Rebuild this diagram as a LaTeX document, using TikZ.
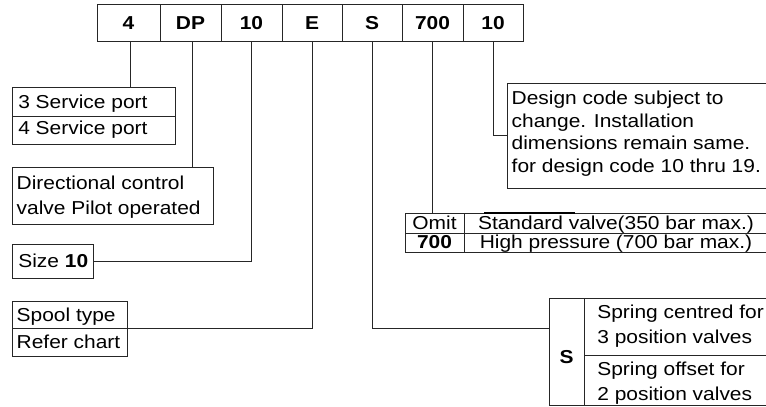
\documentclass[tikz,border=0pt]{standalone}
\usepackage{fontspec}
\setmainfont{Liberation Sans}[FakeStretch=1.12]
\begin{document}
\begin{tikzpicture}[x=1pt,y=-1pt]
\tikzset{
  ln/.style={draw=black!85, line width=1pt},
  box/.style={ln, rectangle, inner sep=0pt, outer sep=0pt, anchor=north west},
  txt/.style={inner sep=0pt, outer sep=0pt, anchor=base west, font=\fontsize{18.7}{22}\selectfont},
  ctxt/.style={txt, anchor=base},
  btxt/.style={ctxt, font=\fontsize{18.7}{22}\selectfont\bfseries},
  bcell/.style={box, font=\fontsize{18.7}{22}\selectfont\bfseries, text height=13.4pt, text depth=0pt},
  link/.style={ln},
}
\useasboundingbox (0,0) rectangle (766,407);
\clip (0,0) rectangle (766,407);

% top code row
\node[bcell, minimum width=63, minimum height=37] (c1) at (97,4) {4};
\node[bcell, minimum width=61, minimum height=37] (c2) at (160,4) {DP};
\node[bcell, minimum width=61, minimum height=37] (c3) at (221,4) {10};
\node[bcell, minimum width=60, minimum height=37] (c4) at (282,4) {E};
\node[bcell, minimum width=60, minimum height=37] (c5) at (342,4) {S};
\node[bcell, minimum width=61, minimum height=37] (c6) at (402,4) {700};
\node[bcell, minimum width=60, minimum height=37] (c7) at (463,4) {10};

% service port
\node[box, minimum width=163, minimum height=57] (sp) at (12,87) {};
\draw[ln] (sp.west |- 0,116) -- (sp.east |- 0,116);
\node[txt] (sp1) at (18.3,108.3) {3 Service port};
\node[txt] (sp2) at (18.3,134.5) {4 Service port};

% directional control valve
\node[box, minimum width=201, minimum height=57] (dcv) at (12,167) {};
\node[txt] (dcv1) at (16.7,189.3) {Directional control};
\node[txt] (dcv2) at (16.7,214.3) {valve Pilot operated};

% size
\node[box, minimum width=81, minimum height=34] (sz) at (12,244) {};
\node[txt] (sz1) at (18.3,267.7) {Size \textbf{10}};

% spool type
\node[box, minimum width=115, minimum height=55] (spool) at (12,301) {};
\draw[ln] (spool.west) -- (spool.east);
\node[txt] (spool1) at (16.7,321) {Spool type};
\node[txt] (spool2) at (16.7,348.3) {Refer chart};

% design code
\node[box, minimum width=270, minimum height=105] (design) at (507,83) {};
\node[txt] (d1) at (511.7,104.5) {Design code subject to};
\node[txt] (d2) at (511.7,127.2) {change. Installation};
\node[txt] (d3) at (511.7,149.9) {dimensions remain same.};
\node[txt] (d4) at (511.7,172.6) {for design code 10 thru 19.};

% pressure table
\node[box, minimum width=59, minimum height=20] (omit) at (405,213) {};
\node[box, minimum width=304, minimum height=20] (std) at (464,213) {};
\node[box, minimum width=59, minimum height=19] (p700) at (405,233) {};
\node[box, minimum width=304, minimum height=19] (high) at (464,233) {};
\node[ctxt] (omitt) at (434.5,229.2) {Omit};
\node[ctxt] (stdt) at (616,229.2) {Standard valve(350 bar max.)};
\node[btxt] (p700t) at (434.5,248.4) {700};
\node[ctxt] (hight) at (616,248.4) {High pressure (700 bar max.)};
\draw[draw=black, line width=1.8pt] (484,213) -- (575,213);

% spring table
\node[box, minimum width=226, minimum height=107.5] (stab) at (549,298) {};
\draw[ln] (584.5,298) -- (584.5,405.5);
\draw[ln] (584.5,355) -- (775,355);
\node[btxt] (s) at (566.5,363.7) {S};
\node[txt] (s1) at (597.3,318) {Spring centred for};
\node[txt] (s2) at (597.3,343) {3 position valves};
\node[txt] (s3) at (597.3,375) {Spring offset for};
\node[txt] (s4) at (597.3,400) {2 position valves};

% connectors
\coordinate (t1) at ([xshift=1.5pt]c1.south);
\coordinate (t2) at ([xshift=1.5pt]c2.south);
\coordinate (sj) at (549,328);
\draw[link] (t1) -- (t1 |- sp.north);
\draw[link] (t2) -- (t2 |- dcv.north);
\draw[link] (c3.south) |- (sz.east);
\draw[link] (c4.south) |- (spool.east);
\draw[link] (c5.south) |- (sj);
\draw[link] (c6.south) -- (c6.south |- omit.north);
\draw[link] (c7.south) |- (design.west);
\end{tikzpicture}
\end{document}
